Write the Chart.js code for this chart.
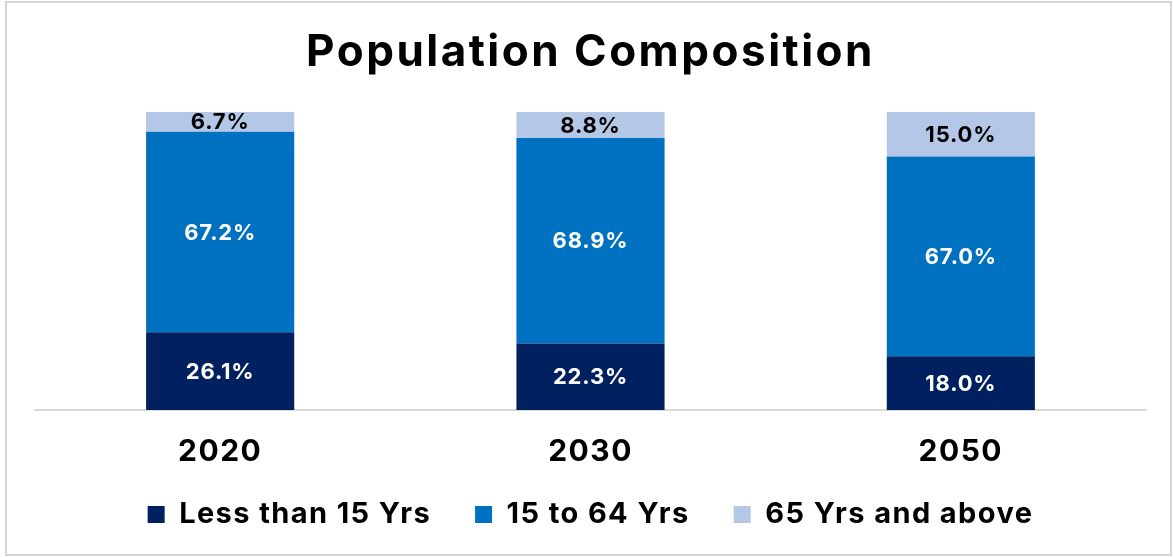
<!DOCTYPE html>
<html>
<head>
<meta charset="utf-8">
<script src="https://cdn.jsdelivr.net/npm/chart.js@4"></script>
<style>
  html, body { margin: 0; padding: 0; background: #fff; }
  #wrap { position: relative; width: 1173px; height: 557px; }
  #frame { position: absolute; left: 5px; top: 1px; width: 1163px; height: 551px; border: 2px solid #d4d4d4; pointer-events: none; }
</style>
</head>
<body>
<div id="wrap">
  <canvas id="chart" width="1173" height="557"></canvas>
  <div id="frame"></div>
</div>
<script>
const years = ["2020", "2030", "2050"];
const seriesNames = ["Less than 15 Yrs", "15 to 64 Yrs", "65 Yrs and above"];
const under15 = [26.1, 22.3, 18.0];
const working = [67.2, 68.9, 67.0];
const over65 = [6.7, 8.8, 15.0];
const colours = ["#002060", "#0070C0", "#B4C7E7"];
const labelColours = ["#ffffff", "#ffffff", "#000000"];

const fontStack = "Inter, 'Noto Sans', sans-serif";
const legendTrim = 30;   // legend reserves less room above its row

Chart.defaults.font.family = fontStack;
Chart.defaults.color = "#000";

function withSpacing(ctx, px, fn) {
  ctx.save();
  ctx.letterSpacing = px;
  fn();
  ctx.restore();
}

// wider lettering for title, legend and x labels (reference font is wider than Inter)
const spacing = {
  id: "spacing",
  beforeLayout(chart) {
    const lg = chart.legend;
    if (lg && !lg._patched) {
      lg._patched = true;
      const fit = lg.fit, draw = lg.draw;
      lg.fit = function () {
        withSpacing(this.ctx, "1.4px", () => fit.call(this));
        this.height -= legendTrim;
      };
      lg.draw = function () {
        this.top -= legendTrim;
        withSpacing(this.ctx, "1.4px", () => draw.call(this));
        this.top += legendTrim;
      };
    }
    const tb = chart.titleBlock;
    if (tb && !tb._patched) {
      tb._patched = true;
      const draw = tb.draw;
      tb.draw = function () { withSpacing(this.ctx, "2.5px", () => draw.call(this)); };
    }
    const x = chart.scales.x;
    if (x && !x._patched) {
      x._patched = true;
      const drawLabels = x.drawLabels;
      x.drawLabels = function (area) { withSpacing(this.ctx, "1.5px", () => drawLabels.call(this, area)); };
    }
  }
};

// draws the percent inside each stacked segment
const barLabels = {
  id: "barLabels",
  afterDatasetsDraw(chart) {
    const ctx = chart.ctx;
    ctx.save();
    ctx.font = "bold 22px " + fontStack;
    ctx.letterSpacing = "0.8px";
    ctx.textAlign = "center";
    ctx.textBaseline = "middle";
    chart.data.datasets.forEach(function (ds, i) {
      const meta = chart.getDatasetMeta(i);
      meta.data.forEach(function (bar, j) {
        ctx.fillStyle = labelColours[i];
        ctx.fillText(ds.data[j].toFixed(1) + "%", bar.x, (bar.y + bar.base) / 2 + 1);
      });
    });
    ctx.restore();
  }
};

const chart = new Chart("chart", {
  type: "bar",
  data: {
    labels: years,
    datasets: [
      { label: seriesNames[0], data: under15, backgroundColor: colours[0] },
      { label: seriesNames[1], data: working, backgroundColor: colours[1] },
      { label: seriesNames[2], data: over65, backgroundColor: colours[2] }
    ]
  },
  options: {
    responsive: false,
    animation: false,
    datasets: { bar: { categoryPercentage: 1, barPercentage: 0.4 } },
    layout: { padding: { left: 35, right: 27, top: 26, bottom: 18 } },
    plugins: {
      title: {
        display: true,
        text: "Population Composition",
        color: "#000",
        font: { size: 44, weight: "bold" },
        padding: { top: 0, bottom: 33 }
      },
      legend: {
        position: "bottom",
        labels: {
          boxWidth: 17,
          boxHeight: 17,
          padding: 44,
          color: "#000",
          font: { size: 29, weight: "bold" }
        }
      },
      tooltip: { enabled: false }
    },
    scales: {
      x: {
        stacked: true,
        grid: { display: false },
        border: { color: "#d9d9d9", width: 2 },
        ticks: { color: "#000", padding: 16, font: { size: 30, weight: "bold" } }
      },
      y: {
        stacked: true,
        display: false,
        min: 0,
        max: 100
      }
    }
  },
  plugins: [spacing, barLabels]
});
</script>
</body>
</html>
